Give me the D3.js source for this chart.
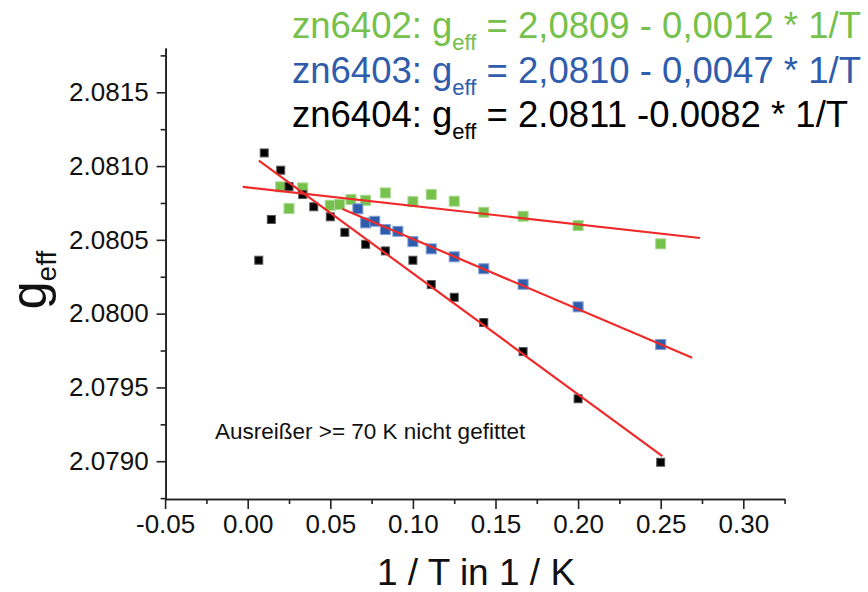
<!DOCTYPE html>
<html><head><meta charset="utf-8">
<script src="https://cdn.jsdelivr.net/npm/d3@7"></script>
<style>
html,body{margin:0;padding:0;background:#fff;}
svg{display:block;font-family:Arial,"Liberation Sans",sans-serif;}
</style></head>
<body><svg id="c" width="868" height="592"></svg>
<script>
// ---- data (x = 1/T in 1/K, y = g_eff) ----
const zn6402X = [0.0200,0.0250,0.0333,0.0500,0.0556,0.0625,0.0714,0.0833,0.1000,0.1111,0.1250,0.1429,0.1667,0.2000,0.2500];
const zn6402Y = [2.080859,2.080712,2.080852,2.080734,2.080739,2.080773,2.080768,2.080818,2.080759,2.080807,2.080762,2.080687,2.080660,2.080597,2.080473];
const zn6403X = [0.0667,0.0714,0.0769,0.0833,0.0909,0.1000,0.1111,0.1250,0.1429,0.1667,0.2000,0.2500];
const zn6403Y = [2.080710,2.080615,2.080626,2.080570,2.080558,2.080488,2.080439,2.080385,2.080304,2.080199,2.080046,2.079791];
const zn6404X = [0.0067,0.0100,0.0143,0.0200,0.0250,0.0333,0.0400,0.0500,0.0588,0.0714,0.0833,0.1000,0.1111,0.1250,0.1429,0.1667,0.2000,0.2500];
const zn6404Y = [2.080362,2.081089,2.080638,2.080972,2.080861,2.080807,2.080724,2.080656,2.080551,2.080470,2.080425,2.080362,2.080197,2.080111,2.079940,2.079743,2.079423,2.078993];
// linear fits: intercept, slope, x-range of drawn line
const fitIntercept = [2.080855, 2.080982, 2.081093];
const fitSlope = [-0.00125, -0.00476, -0.0082];
const fitFrom = [-0.003, 0.0574, 0.0068];
const fitTo = [0.2738, 0.2691, 0.2510];
const xTicks = [-0.05,0.00,0.05,0.10,0.15,0.20,0.25,0.30];
const xMinor = [-0.025,0.025,0.075,0.125,0.175,0.225,0.275,0.325];
const yTicks = [2.0790,2.0795,2.0800,2.0805,2.0810,2.0815];
const yMinor = [2.07875,2.07925,2.07975,2.08025,2.08075,2.08125,2.08175];
const legendLabels = [
  ["zn6402: g","eff"," = 2,0809 - 0,0012 * 1/T"],
  ["zn6403: g","eff"," = 2,0810 - 0,0047 * 1/T"],
  ["zn6404: g","eff"," = 2.0811 -0.0082 * 1/T"]
];
const note = "Ausreißer >= 70 K nicht gefittet";

// ---- drawing ----
const svg = d3.select("#c");
const x = d3.scaleLinear().domain([-0.05,0.325]).range([165.1,784.6]);
const y = d3.scaleLinear().domain([2.078744,2.0818]).range([499,48]);
const axisColor = "#222";
const fmtX = d => d3.format(".2f")(d).replace("\u2212","-");

function styleAxis(g){
  g.select(".domain").attr("stroke",axisColor).attr("stroke-width",1.6);
  g.selectAll(".tick line").attr("stroke",axisColor).attr("stroke-width",1.6);
  g.selectAll(".tick text").attr("fill","#111").style("font-size","26px").style("font-family","Arial,'Liberation Sans',sans-serif");
}
// x axis
svg.append("g").attr("transform","translate(0,499)")
  .call(d3.axisBottom(x).tickValues(xMinor).tickSize(5).tickFormat("").tickSizeOuter(0))
  .call(styleAxis);
svg.append("g").attr("transform","translate(0,499)")
  .call(d3.axisBottom(x).tickValues(xTicks).tickSize(10).tickPadding(6).tickFormat(fmtX).tickSizeOuter(0))
  .call(styleAxis);
// y axis
svg.append("g").attr("transform","translate(165.6,0)")
  .call(d3.axisLeft(y).tickValues(yMinor).tickSize(5).tickFormat("").tickSizeOuter(0))
  .call(styleAxis);
svg.append("g").attr("transform","translate(165.6,0)")
  .call(d3.axisLeft(y).tickValues(yTicks).tickSize(9).tickPadding(8).tickFormat(d3.format(".4f")).tickSizeOuter(0))
  .call(styleAxis);

// points
function pts(xs, ys, size, fill, stroke){
  svg.append("g").selectAll("rect").data(xs.map((d,i)=>[d,ys[i]])).join("rect")
    .attr("x",d=>x(d[0])-size/2).attr("y",d=>y(d[1])-size/2)
    .attr("width",size).attr("height",size)
    .attr("fill",fill).attr("stroke",stroke).attr("stroke-width",1);
}
pts(zn6402X, zn6402Y, 10, "#76c04c", "#a8d98f");
pts(zn6403X, zn6403Y, 10, "#2f5dac", "#7f9fd6");
pts(zn6404X, zn6404Y, 8, "#000", "#555");

// fit lines
for(let i=0;i<3;i++){
  svg.append("line")
    .attr("x1",x(fitFrom[i])).attr("y1",y(fitIntercept[i]+fitSlope[i]*fitFrom[i]))
    .attr("x2",x(fitTo[i])).attr("y2",y(fitIntercept[i]+fitSlope[i]*fitTo[i]))
    .attr("stroke","#ee2a2a").attr("stroke-width",2.2);
}

// legend
const legendColors = ["#76c04c","#2f5dac","#000"];
legendLabels.forEach((l,i)=>{
  const t = svg.append("text").attr("x",292).attr("y",38+44.5*i)
    .attr("fill",legendColors[i]).style("font-size","36.5px");
  t.append("tspan").text(l[0]);
  t.append("tspan").attr("dy",12).style("font-size","22px").text(l[1]);
  t.append("tspan").attr("dy",-12).text(l[2]);
});

// note
svg.append("text").attr("x",215).attr("y",439).attr("fill","#111").style("font-size","22.5px").text(note);

// axis titles
svg.append("text").attr("x",476).attr("y",585).attr("text-anchor","middle")
  .attr("fill","#111").style("font-size","37px").text("1 / T in 1 / K");
const yt = svg.append("text").attr("transform","translate(46,280) rotate(-90)")
  .attr("text-anchor","middle").attr("fill","#111").style("font-size","50px");
yt.append("tspan").text("g");
yt.append("tspan").attr("dy",10).style("font-size","28px").text("eff");
</script></body></html>
